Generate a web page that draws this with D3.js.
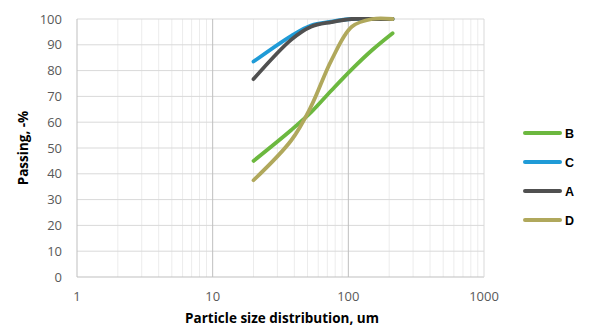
<!DOCTYPE html>
<html>
<head>
<meta charset="utf-8">
<script src="https://cdn.jsdelivr.net/npm/d3@7"></script>
<style>
  body { margin: 0; background: #fff; }
  svg { display: block; }
  .tick-label { font-family: "Open Sans", sans-serif; font-size: 13px; fill: #595959; }
  .axis-title { font-family: "Open Sans", sans-serif; font-size: 13.5px; font-weight: bold; fill: #000; }
  .legend-label { font-family: "Liberation Sans", Arial, sans-serif; font-size: 12.5px; font-weight: bold; fill: #000; }
</style>
</head>
<body>
<script>
/* ---- data ---- */
var sizes = [20, 38, 53, 75, 106, 150, 212];          // particle size, um
var seriesNames = ['B', 'C', 'A', 'D'];
var passingB = [45, 57, 63.8, 72.3, 80.5, 88, 94.5];
var passingC = [83.5, 93.5, 97.5, 99, 100, 100, 100];
var passingA = [76.7, 92, 97, 98.8, 100, 100, 100];
var passingD = [37.5, 53, 66, 84, 97, 100, 100];
var seriesColors = ['#6cb83f', '#1f9bd7', '#505050', '#b0a85c'];
var yTicks = [0, 10, 20, 30, 40, 50, 60, 70, 80, 90, 100];
var xTicks = [1, 10, 100, 1000];

var width = 589, height = 328;
var plotLeft = 77, plotRight = 484, plotTop = 19, plotBottom = 277;

var svg = d3.select('body').append('svg')
  .attr('width', width)
  .attr('height', height);

var x = d3.scaleLog().domain([1, 1000]).range([plotLeft, plotRight]);
var y = d3.scaleLinear().domain([0, 100]).range([plotBottom, plotTop]);

// minor vertical gridlines (2..9 of each decade)
var minor = [];
[1, 10, 100].forEach(function(dec) {
  for (var k = 2; k <= 9; k++) minor.push(dec * k);
});
svg.append('g').selectAll('line')
  .data(minor)
  .enter().append('line')
    .attr('x1', function(d) { return x(d); })
    .attr('x2', function(d) { return x(d); })
    .attr('y1', plotTop)
    .attr('y2', plotBottom)
    .attr('stroke', '#ececec')
    .attr('stroke-width', 1);

// horizontal gridlines
svg.append('g').selectAll('line')
  .data(yTicks)
  .enter().append('line')
    .attr('x1', plotLeft)
    .attr('x2', plotRight)
    .attr('y1', function(d) { return y(d); })
    .attr('y2', function(d) { return y(d); })
    .attr('stroke', function(d) { return d === 0 ? '#bfbfbf' : '#d9d9d9'; })
    .attr('stroke-width', 1);

// major vertical gridlines
svg.append('g').selectAll('line')
  .data(xTicks)
  .enter().append('line')
    .attr('x1', function(d) { return x(d); })
    .attr('x2', function(d) { return x(d); })
    .attr('y1', plotTop)
    .attr('y2', plotBottom)
    .attr('stroke', function(d) { return d === 1000 ? '#d9d9d9' : '#bfbfbf'; })
    .attr('stroke-width', 1);

// tick labels
svg.append('g').selectAll('text')
  .data(yTicks)
  .enter().append('text')
    .attr('class', 'tick-label')
    .attr('x', plotLeft - 15)
    .attr('y', function(d) { return y(d); })
    .attr('dy', '0.35em')
    .attr('text-anchor', 'end')
    .text(function(d) { return d; });

svg.append('g').selectAll('text')
  .data(xTicks)
  .enter().append('text')
    .attr('class', 'tick-label')
    .attr('x', function(d) { return x(d); })
    .attr('y', 301)
    .attr('text-anchor', 'middle')
    .text(function(d) { return d; });

// axis titles
svg.append('text')
  .attr('class', 'axis-title')
  .attr('x', 282)
  .attr('y', 323)
  .attr('text-anchor', 'middle')
  .text('Particle size distribution, um');

svg.append('text')
  .attr('class', 'axis-title')
  .attr('transform', 'translate(28,148) rotate(-90)')
  .attr('text-anchor', 'middle')
  .text('Passing, -%');

// series lines (smoothed like the spreadsheet chart)
var allValues = [passingB, passingC, passingA, passingD];
var line = d3.line()
  .x(function(d, i) { return x(sizes[i]); })
  .y(function(d) { return y(d); })
  .curve(d3.curveCatmullRom.alpha(0.5));

svg.append('g').selectAll('path')
  .data(allValues)
  .enter().append('path')
    .attr('d', line)
    .attr('fill', 'none')
    .attr('stroke', function(d, i) { return seriesColors[i]; })
    .attr('stroke-width', 3.8)
    .attr('stroke-linecap', 'round')
    .attr('stroke-linejoin', 'round');

// legend
var legendY = d3.scalePoint().domain(seriesNames).range([133, 220]);
var legend = svg.append('g').selectAll('g')
  .data(seriesNames)
  .enter().append('g')
    .attr('transform', function(d) { return 'translate(0,' + legendY(d) + ')'; });
legend.append('line')
  .attr('x1', 525)
  .attr('x2', 560)
  .attr('stroke', function(d, i) { return seriesColors[i]; })
  .attr('stroke-width', 4)
  .attr('stroke-linecap', 'round');
legend.append('text')
  .attr('class', 'legend-label')
  .attr('x', 565)
  .attr('dy', '0.36em')
  .text(function(d) { return d; });
</script>
</body>
</html>
